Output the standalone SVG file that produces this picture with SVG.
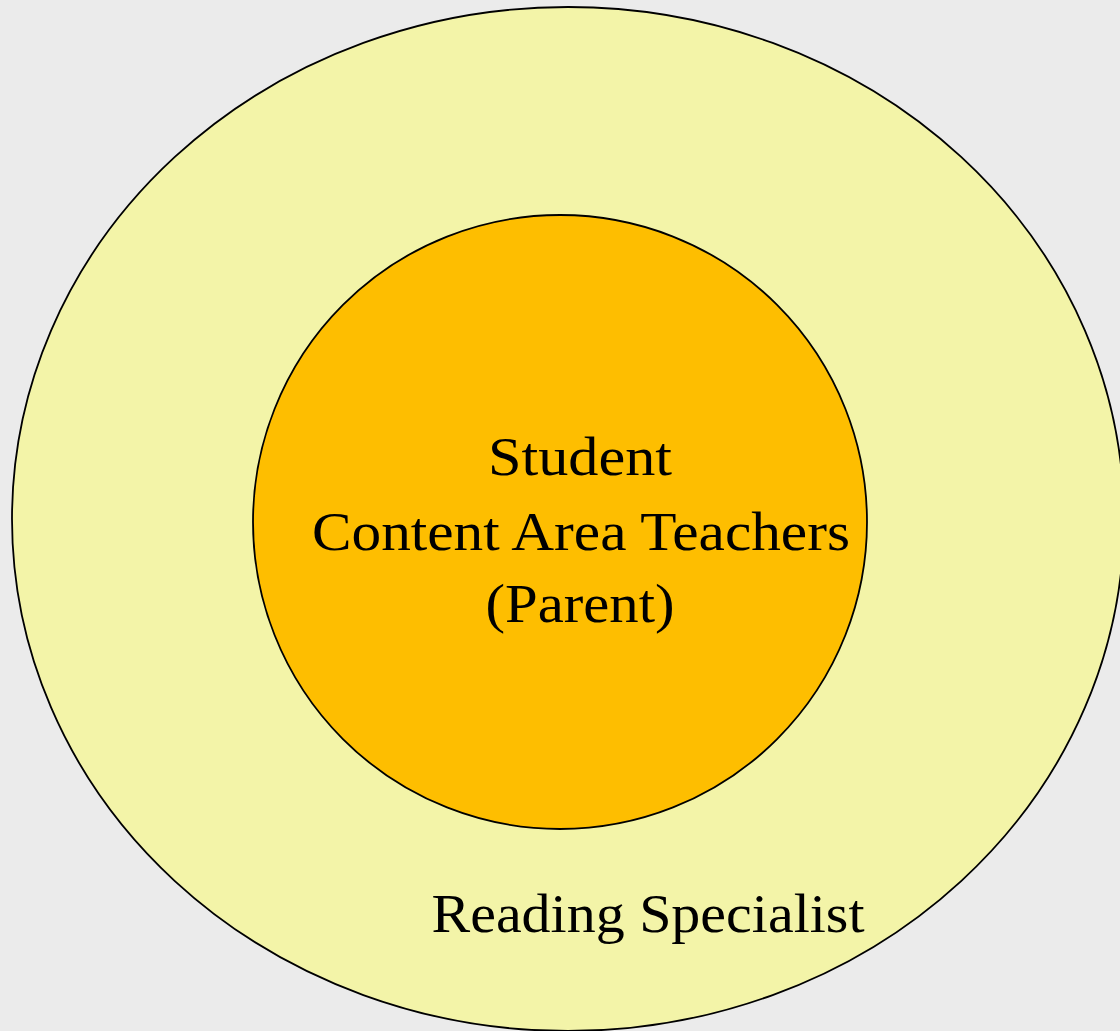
<svg xmlns="http://www.w3.org/2000/svg" width="1120" height="1031" viewBox="0 0 1120 1031">
<style>
.t{font-family:"Liberation Serif","DejaVu Serif",serif;font-size:54px;fill:#000;text-anchor:middle}
</style>
<rect width="1120" height="1031" fill="#ebebeb"/>
<g id="outer">
<ellipse cx="568" cy="519" rx="556" ry="512" fill="#f3f4a8" stroke="#000" stroke-width="1.8"/>
<text class="t" x="648" y="932" textLength="433" lengthAdjust="spacingAndGlyphs">Reading Specialist</text>
</g>
<g id="inner">
<circle cx="560" cy="522" r="307" fill="#febe00" stroke="#000" stroke-width="1.8"/>
<text class="t" x="580" y="475" textLength="184" lengthAdjust="spacingAndGlyphs">Student</text>
<text class="t" x="581" y="550" textLength="538" lengthAdjust="spacingAndGlyphs">Content Area Teachers</text>
<text class="t" x="580" y="622" textLength="189" lengthAdjust="spacingAndGlyphs">(Parent)</text>
</g>
<g id="connectors"/>
</svg>
